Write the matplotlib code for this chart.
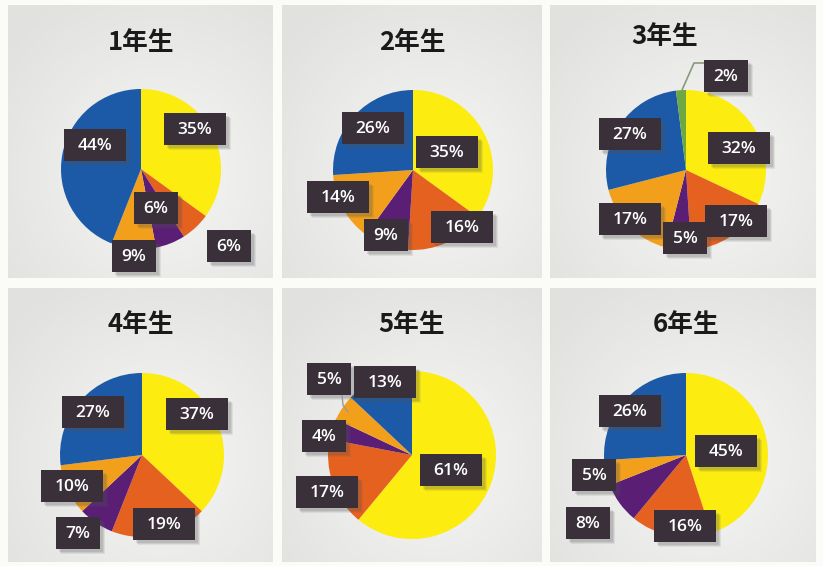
import numpy as np
import matplotlib.pyplot as plt
from matplotlib.patches import Rectangle

plt.rcParams['font.family'] = ['Noto Sans CJK JP', 'DejaVu Sans']

grades = ['1年生', '2年生', '3年生', '4年生', '5年生', '6年生']

# Slice order, clockwise from 12 o'clock
slice_colors = ['#fcec10', '#e4611f', '#5a1f74', '#f2a01c', '#1c5aa7', '#6ea843']

g1 = [35, 6, 6, 9, 44, 0]
g2 = [35, 16, 9, 14, 26, 0]
g3 = [32, 17, 5, 17, 27, 2]
g4 = [37, 19, 7, 10, 27, 0]
g5 = [61, 17, 4, 5, 13, 0]
g6 = [45, 16, 8, 5, 26, 0]
grade_values = [g1, g2, g3, g4, g5, g6]

# ---- layout (pixel coordinates, y measured downward) ----
W, H = 823, 566
panels = [(8, 5, 273, 278), (282, 5, 542, 278), (550, 5, 816, 278),
          (8, 288, 273, 562), (282, 288, 542, 562), (550, 288, 816, 562)]
pie_geom = [(141, 169, 80), (413, 170, 80), (686, 170, 80),
            (142, 455, 82), (412, 455, 84), (686, 455, 82)]
title_pos = [(141, 43), (412, 43), (665, 36), (141, 325), (412, 325), (686, 325)]
label_pos = [
    [(195, 129), (229, 246), (156, 208), (134, 256), (95, 145), None],
    [(447, 152), (462, 227), (386, 235), (338, 197), (373, 128), None],
    [(739, 148), (736, 221), (685, 238), (630, 219), (630, 134), (726, 76)],
    [(197, 414), (164, 524), (78, 533), (72, 486), (93, 412), None],
    [(451, 470), (327, 492), (324, 436), (329, 379), (385, 382), None],
    [(726, 451), (685, 526), (588, 523), (594, 475), (630, 411), None],
]

fig = plt.figure(figsize=(W / 100, H / 100), dpi=100)
fig.patch.set_facecolor('#fbfbf8')
ax = fig.add_axes([0, 0, 1, 1])


def panel_gradient(w, h):
    yy, xx = np.mgrid[0:h, 0:w]
    cx, cy = 0.58 * w, 0.62 * h
    d = np.sqrt(((xx - cx) / w) ** 2 + ((yy - cy) / h) ** 2)
    v = 0.965 - 0.11 * d
    v = np.clip(v, 0.885, 0.965)
    return np.dstack([v, v, v * 0.995])


for (x0, y0, x1, y1) in panels:
    img = panel_gradient(int(x1 - x0), int(y1 - y0))
    ax.imshow(img, extent=(x0, x1, y1, y0), origin='upper', zorder=0,
              interpolation='bilinear')

for i, vals in enumerate(grade_values):
    cx, cy, r = pie_geom[i]
    keep = [k for k, v in enumerate(vals) if v > 0]
    ax.pie([vals[k] for k in keep], colors=[slice_colors[k] for k in keep],
           center=(cx, cy), radius=r, startangle=-90, counterclock=True,
           frame=True, wedgeprops=dict(linewidth=0), normalize=True)
    tx, ty = title_pos[i]
    ax.text(tx, ty, grades[i], ha='center', va='center', fontsize=18.5,
            fontweight='bold', color='#1a1a1a', zorder=6)
    for k in keep:
        lx, ly = label_pos[i][k]
        txt = f'{vals[k]}%'
        bw = 62 if len(txt) > 2 else 44
        bh = 32
        # soft drop shadow
        for off, a in [(5, 0.10), (4, 0.12), (3, 0.15)]:
            ax.add_patch(Rectangle((lx - bw / 2 + off, ly - bh / 2 + off), bw, bh,
                                   facecolor='#555555', alpha=a, linewidth=0, zorder=3))
        ax.add_patch(Rectangle((lx - bw / 2, ly - bh / 2), bw, bh,
                               facecolor='#3a3039', linewidth=0, zorder=4))
        ax.text(lx, ly + 1, txt, ha='center', va='center', fontsize=12.5,
                fontweight='semibold', color='white', family=['Open Sans', 'DejaVu Sans'],
                zorder=5)

# leader lines for the small slices
ax.plot([682, 694, 706], [90, 63, 63], color='#8a9a78', lw=1.2, zorder=3)
ax.plot([342, 343, 348], [395, 405, 412], color='#9a9a9a', lw=1.0, zorder=3)

ax.set_xlim(0, W)
ax.set_ylim(H, 0)
ax.set_aspect('auto')
ax.axis('off')

fig.savefig('out.png', dpi=100, facecolor=fig.get_facecolor())
